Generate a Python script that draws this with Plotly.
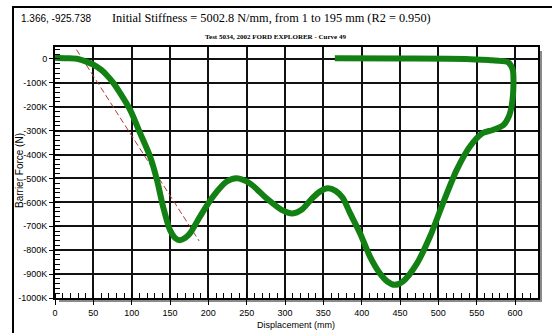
import plotly.graph_objects as go

# ---- data ----
disp_mm = [0, 15, 30, 40, 50, 60, 67, 76, 85, 98, 111, 124, 133, 141, 150, 157, 163, 170, 176,
           189, 206, 224, 237, 254, 276, 295, 310, 322, 334, 345, 356, 366, 375, 385, 398, 411,
           424, 434, 443, 454, 472, 489, 506, 524, 541, 558, 571, 585, 592, 596, 598, 597, 591,
           580, 567, 536, 450, 365]
force_k = [5, 3, 0, -10, -24, -45, -66, -100, -143, -213, -310, -408, -506, -618, -716, -750, -758,
           -748, -730, -660, -576, -513, -499, -520, -583, -630, -646, -630, -588, -556, -541, -552,
           -580, -646, -730, -828, -898, -932, -945, -930, -856, -744, -604, -464, -367, -310, -297,
           -276, -240, -190, -101, -45, -14, -8, -5, 0, 2, 3]
force_n = [v * 1000 for v in force_k]

stiffness_n_per_mm = 5002.8
fit_intercept_mm = 35.8
fit_x = [28, 188]
fit_y = [-stiffness_n_per_mm * (x - fit_intercept_mm) for x in fit_x]

x_ticks = list(range(0, 601, 50))
y_ticks = [0, -100000, -200000, -300000, -400000, -500000, -600000, -700000, -800000, -900000, -1000000]
y_tick_text = ["0", "-100K", "-200K", "-300K", "-400K", "-500K", "-600K", "-700K", "-800K", "-900K", "-1000K"]

title_text = "Initial Stiffness = 5002.8 N/mm, from 1 to 195 mm (R2 = 0.950)"
subtitle_text = "Test 5034, 2002 FORD EXPLORER - Curve 49"
corner_text = "1.366, -925.738"
x_title = "Displacement (mm)"
y_title = "Barrier Force (N)"

W, H = 552, 333
ML, MR, MT, MB = 55, 14, 47, 35
PW, PH = W - ML - MR, H - MT - MB


def px(x):
    return (x - ML) / PW


def py(y):
    return (H - MB - y) / PH


fig = go.Figure()
fig.add_trace(go.Scatter(x=fit_x, y=fit_y, mode="lines",
                         line=dict(color="#b03a3a", width=1, dash="6px,3px"),
                         hoverinfo="skip", showlegend=False))
fig.add_trace(go.Scatter(x=disp_mm, y=force_n, mode="lines",
                         line=dict(color="#138013", width=6, shape="spline", smoothing=0.8),
                         showlegend=False))

tick_font = dict(family="Arial", size=9, color="black")
fig.update_xaxes(range=[0, 630], tickvals=x_ticks, ticks="outside", ticklen=5, tickcolor="black",
                 tickwidth=1, showgrid=True, gridcolor="#111", gridwidth=1.5, zeroline=False,
                 showline=True, linecolor="black", linewidth=2, mirror=True, tickfont=tick_font,
                 minor=dict(dtick=10, ticks="inside", ticklen=5, tickcolor="black", showgrid=False))
fig.update_yaxes(range=[-1000000, 50000], tickvals=y_ticks, ticktext=y_tick_text, ticks="outside",
                 ticklen=4, tickcolor="black", tickwidth=1, showgrid=True, gridcolor="#111",
                 gridwidth=1.5, zeroline=False, showline=True, linecolor="black", linewidth=2,
                 mirror=True, tickfont=tick_font,
                 minor=dict(dtick=20000, ticks="inside", ticklen=5, tickcolor="black", showgrid=False))

shapes = [
    # drop shadow of plot area
    dict(type="rect", xref="paper", yref="paper", layer="below",
         x0=px(ML + 4), x1=px(W - MR + 4), y0=py(H - MB + 4), y1=py(MT + 4),
         fillcolor="#8a8a8a", line=dict(width=0)),
    dict(type="rect", xref="paper", yref="paper", layer="below",
         x0=0, x1=1, y0=0, y1=1, fillcolor="white", line=dict(width=0)),
    # outer frame (left and top)
    dict(type="line", xref="paper", yref="paper", x0=px(13), x1=px(13), y0=py(H + 2), y1=py(6),
         line=dict(color="black", width=2)),
    dict(type="line", xref="paper", yref="paper", x0=px(12), x1=px(W + 2), y0=py(7), y1=py(7),
         line=dict(color="black", width=2)),
]

annotations = [
    dict(text=title_text, xref="paper", yref="paper", x=px(271), y=py(18), showarrow=False,
         xanchor="center", yanchor="middle", font=dict(family="Liberation Serif", size=12.3, color="black")),
    dict(text="<b>" + subtitle_text + "</b>", xref="paper", yref="paper", x=px(275), y=py(37),
         showarrow=False, xanchor="center", yanchor="middle",
         font=dict(family="Liberation Serif", size=7, color="black")),
    dict(text=corner_text, xref="paper", yref="paper", x=px(19), y=py(18), showarrow=False,
         xanchor="left", yanchor="middle", font=dict(family="Arial", size=10, color="black")),
    dict(text=x_title, xref="paper", yref="paper", x=px(296), y=py(325), showarrow=False,
         xanchor="center", yanchor="middle", font=dict(family="Arial", size=9, color="black")),
    dict(text=y_title, xref="paper", yref="paper", x=px(19), y=py(171), showarrow=False,
         xanchor="center", yanchor="middle", textangle=-90,
         font=dict(family="Arial", size=10, color="black")),
]

fig.update_layout(width=W, height=H, margin=dict(l=ML, r=MR, t=MT, b=MB),
                  paper_bgcolor="white", plot_bgcolor="rgba(0,0,0,0)",
                  shapes=shapes, annotations=annotations)

fig.write_html("out.html")
